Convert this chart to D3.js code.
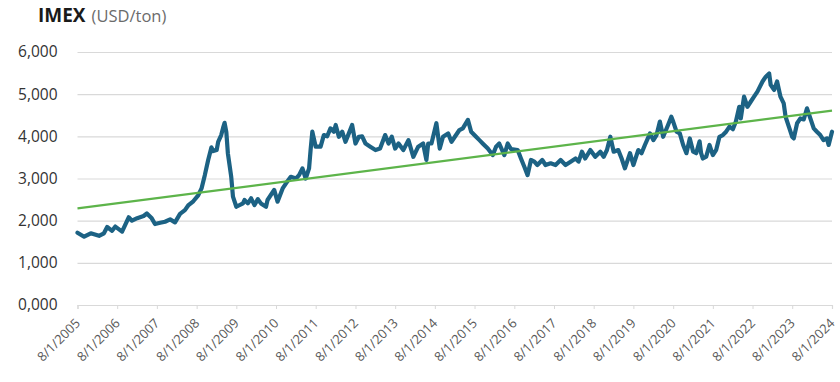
<!DOCTYPE html>
<html>
<head>
<meta charset="utf-8">
<script src="https://cdn.jsdelivr.net/npm/d3@7"></script>
<style>
  body { margin: 0; background: #fff; }
  svg { display: block; font-family: "Open Sans", "Noto Sans", sans-serif; }
</style>
</head>
<body>
<svg id="chart" width="840" height="382"></svg>
<script>
// IMEX price, USD/ton
var dates = [
  "2005-08-01","2005-10-01","2005-12-01","2006-02-15","2006-04-01","2006-05-01","2006-06-15","2006-07-15",
  "2006-09-15","2006-11-15","2006-12-15","2007-02-01","2007-04-01","2007-05-01","2007-06-15","2007-07-15",
  "2007-09-01","2007-10-15","2007-12-01","2008-01-15","2008-03-01","2008-04-15","2008-05-15","2008-07-01",
  "2008-08-15","2008-09-15","2008-10-15","2008-11-15","2008-12-15","2009-01-01","2009-02-01","2009-02-15",
  "2009-03-15","2009-04-01","2009-04-15","2009-05-01","2009-05-15","2009-06-15","2009-07-01","2009-08-01",
  "2009-10-01","2009-10-15","2009-11-15","2009-12-15","2010-01-15","2010-02-15","2010-03-15","2010-05-01",
  "2010-05-15","2010-07-15","2010-08-15","2010-10-01","2010-11-01","2010-12-15","2011-02-01","2011-03-01",
  "2011-04-01","2011-05-01","2011-06-01","2011-06-15","2011-07-01","2011-08-01","2011-09-15","2011-10-15",
  "2011-11-15","2011-12-15","2012-01-15","2012-02-01","2012-03-01","2012-04-01","2012-05-01","2012-06-01",
  "2012-07-01","2012-08-01","2012-09-01","2012-10-01","2012-11-01","2012-12-15","2013-02-01","2013-03-15",
  "2013-05-01","2013-06-01","2013-07-01","2013-08-01","2013-09-01","2013-10-15","2013-12-01","2014-01-15",
  "2014-03-01","2014-04-15","2014-05-15","2014-06-01","2014-07-01","2014-08-15","2014-09-15","2014-10-15",
  "2014-12-01","2015-01-01","2015-02-01","2015-03-15","2015-04-15","2015-06-01","2015-07-01","2015-08-15",
  "2015-09-15","2015-10-15","2015-12-01","2016-01-15","2016-02-15","2016-03-15","2016-05-01","2016-06-01",
  "2016-07-01","2016-09-01","2016-10-01","2016-11-01","2016-12-01","2017-01-01","2017-02-01","2017-03-01",
  "2017-04-15","2017-05-15","2017-07-01","2017-08-15","2017-10-01","2017-11-15","2018-01-01","2018-02-15",
  "2018-03-15","2018-04-15","2018-05-15","2018-07-01","2018-08-15","2018-10-01","2018-11-01","2018-12-01",
  "2019-01-01","2019-02-01","2019-03-15","2019-04-15","2019-05-15","2019-07-01","2019-08-01","2019-09-15",
  "2019-10-15","2019-11-15","2020-01-01","2020-02-01","2020-03-01","2020-04-01","2020-05-01","2020-06-15",
  "2020-07-15","2020-08-01","2020-09-01","2020-10-01","2020-11-01","2020-12-01","2021-01-01","2021-02-01",
  "2021-03-01","2021-04-01","2021-04-15","2021-05-01","2021-06-01","2021-07-01","2021-08-01","2021-09-01",
  "2021-10-01","2021-11-01","2021-12-01","2022-01-01","2022-02-01","2022-03-01","2022-04-01","2022-04-15",
  "2022-05-15","2022-06-15","2022-07-15","2022-08-15","2022-09-15","2022-11-01","2022-12-01","2023-01-01",
  "2023-01-15","2023-02-15","2023-03-15","2023-04-15","2023-05-15","2023-06-01","2023-07-01","2023-08-01",
  "2023-08-15","2023-09-15","2023-10-15","2023-11-15","2023-12-15","2024-01-15","2024-02-15","2024-03-15",
  "2024-04-15","2024-05-15","2024-06-15","2024-07-01","2024-08-01"
];
var prices = [
  1715,1620,1700,1640,1700,1850,1760,1860,
  1740,2080,2000,2060,2110,2170,2055,1920,
  1950,1975,2030,1960,2160,2250,2360,2460,
  2600,2765,3080,3440,3740,3650,3675,3870,
  4030,4200,4320,4100,3600,3040,2570,2330,
  2410,2490,2410,2530,2370,2510,2410,2330,
  2490,2730,2450,2765,2885,3040,3000,3080,
  3240,3000,3240,3675,4110,3755,3755,4030,
  4000,4190,4110,4270,3990,4110,3870,4070,
  4270,3830,3990,4000,3830,3755,3675,3710,
  4030,3830,3990,3710,3830,3675,3910,3515,
  3755,3830,3440,3830,3830,4310,3710,3990,
  4070,3870,3990,4150,4190,4390,4110,3990,
  3910,3830,3710,3555,3755,3830,3555,3830,
  3700,3675,3475,3280,3080,3440,3400,3320,
  3440,3320,3360,3320,3440,3320,3400,3475,
  3400,3635,3475,3675,3515,3635,3515,3675,
  3990,3635,3675,3475,3240,3600,3320,3675,
  3600,3795,4070,3910,4030,4350,3990,4270,
  4465,4350,4110,4070,3795,3600,3950,3635,
  3600,3880,3600,3475,3520,3795,3555,3680,
  3990,4030,4110,4230,4170,4350,4700,4425,
  4940,4700,4820,4940,5060,5300,5415,5490,
  5220,5100,5300,4940,4780,4465,4230,3990,
  3950,4310,4425,4400,4665,4425,4190,4110,
  4030,3910,3950,3795,4110
];
// linear trend line end values
var trendDates = ["2005-08-01", "2024-08-01"];
var trendValues = [2290, 4610];
var tickYears = d3.range(2005, 2025);
var yTicks = [0, 1000, 2000, 3000, 4000, 5000, 6000];

var parse = d3.timeParse("%Y-%m-%d");
var data = dates.map(function (d, i) { return { date: parse(d), value: prices[i] }; });
var trend = trendDates.map(function (d, i) { return { date: parse(d), value: trendValues[i] }; });

var svg = d3.select("#chart");

var x = d3.scaleTime()
    .domain([parse("2005-08-01"), parse("2024-08-01")])
    .range([77.5, 832]);
var y = d3.scaleLinear()
    .domain([0, 6000])
    .range([305, 52]);

// title
var title = svg.append("text")
    .attr("x", 38)
    .attr("y", 22)
    .attr("fill", "#1a1a1a");
title.append("tspan")
    .attr("font-size", 19)
    .attr("font-weight", 700)
    .text("IMEX");
title.append("tspan")
    .attr("font-size", 16.5)
    .attr("fill", "#6b6b6b")
    .attr("dx", 6)
    .text("(USD/ton)");

// gridlines + y labels
var yAxis = svg.append("g")
    .attr("transform", "translate(77.5,0)")
    .call(d3.axisLeft(y)
        .tickValues(yTicks)
        .tickSize(-754.5)
        .tickPadding(20)
        .tickFormat(function (d) { return d === 0 ? "0,000" : d3.format(",")(d); }));
yAxis.select(".domain").remove();
yAxis.selectAll(".tick line").attr("stroke", "#d9d9d9").attr("stroke-width", 1.2);
yAxis.selectAll(".tick text")
    .attr("fill", "#333")
    .attr("font-size", 15.5)
    .attr("font-family", "\"Open Sans\", sans-serif");

// x axis
var xAxis = svg.append("g")
    .attr("transform", "translate(0,305)")
    .call(d3.axisBottom(x)
        .tickValues(tickYears.map(function (yr) { return new Date(yr, 7, 1); }))
        .tickSize(4)
        .tickFormat(d3.timeFormat("%-m/%-d/%Y")));
xAxis.select(".domain").attr("stroke", "#d9d9d9").attr("stroke-width", 1.2);
xAxis.selectAll(".tick line").attr("stroke", "#d9d9d9");
xAxis.selectAll(".tick text")
    .attr("fill", "#595959")
    .attr("font-size", 13)
    .attr("font-family", "\"Open Sans\", sans-serif")
    .attr("text-anchor", "end")
    .attr("y", 0)
    .attr("dy", 0)
    .attr("transform", "translate(3,19) rotate(-45)");

// series
var line = d3.line()
    .x(function (d) { return x(d.date); })
    .y(function (d) { return y(d.value); });

svg.append("path")
    .datum(data)
    .attr("fill", "none")
    .attr("stroke", "#1c6284")
    .attr("stroke-width", 4.2)
    .attr("stroke-linejoin", "round")
    .attr("stroke-linecap", "round")
    .attr("d", line);

svg.append("path")
    .datum(trend)
    .attr("fill", "none")
    .attr("stroke", "#5db44a")
    .attr("stroke-width", 2.2)
    .attr("d", line);
</script>
</body>
</html>
